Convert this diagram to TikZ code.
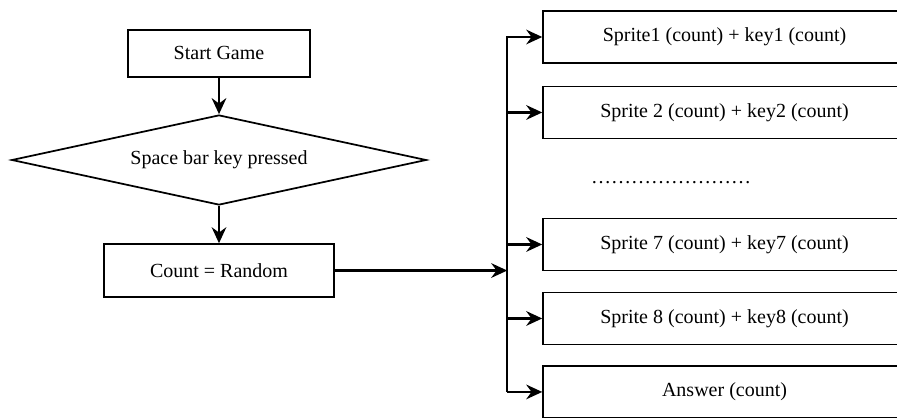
\documentclass[tikz,border=0pt]{standalone}
\usepackage{fontspec}
\setmainfont{Liberation Serif}
\usetikzlibrary{shapes.geometric,arrows.meta,positioning}

\begin{document}
\begin{tikzpicture}[>={Stealth[length=12pt,width=11pt,inset=4pt]}, node distance=80pt,
    font=\fontsize{15}{18}\selectfont,
    box/.style={draw, rectangle, line width=1.2pt, inner sep=0pt},
    decision/.style={draw, diamond, aspect=4.6, line width=1.3pt, inner sep=0pt, minimum width=311pt, minimum height=67.5pt},
    flow/.style={->, line width=1.7pt}]
    \useasboundingbox (0,0) rectangle (672.75pt,-313.5pt);
    \clip (0,0) rectangle (672.75pt,-313.5pt);

    \node[box, minimum width=136.5pt, minimum height=35.25pt] (start) at (164.25pt,-40.1pt) {Start Game};
    \node[decision, below of=start, node distance=79.9pt] (space) {Space bar key pressed};
    \node[box, minimum width=172.5pt, minimum height=39.75pt, below of=space, node distance=82.9pt] (count) {Count = Random};

    \node[box, minimum width=272.25pt, minimum height=39pt] (s1) at (543.4pt,-27.75pt) {Sprite1 (count) + key1 (count)};
    \node[box, minimum width=272.25pt, minimum height=39pt, below of=s1, node distance=56.6pt] (s2) {Sprite 2 (count) + key2 (count)};
    \node[box, minimum width=272.25pt, minimum height=39pt, below of=s2, node distance=99pt] (s7) {Sprite 7 (count) + key7 (count)};
    \node[box, minimum width=272.25pt, minimum height=39pt, below of=s7, node distance=55.5pt] (s8) {Sprite 8 (count) + key8 (count)};
    \node[box, minimum width=272.25pt, minimum height=39pt, below of=s8, node distance=55.1pt] (ans) {Answer (count)};
    \node (dots) at (503.25pt,-137.25pt) {……………………};

    \coordinate[left=26.25pt of s1.west] (bustop);
    \coordinate[left=26.25pt of ans.west] (busbot);

    \draw[flow] (start) -- (space);
    \draw[flow] (space) -- (count);
    \draw[flow] (count) -- (count -| bustop);
    \draw[flow] (busbot) -- (bustop) -- (s1);
    \draw[flow] (s2 -| bustop) -- (s2);
    \draw[flow] (s7 -| bustop) -- (s7);
    \draw[flow] (s8 -| bustop) -- (s8);
    \draw[flow] (busbot) -- (ans);
\end{tikzpicture}
\end{document}
